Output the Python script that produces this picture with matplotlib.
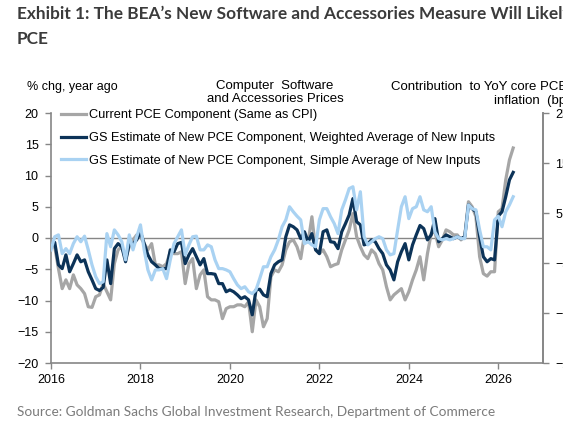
import matplotlib
matplotlib.use("Agg")
import matplotlib.pyplot as plt
import numpy as np
import pandas as pd

# monthly, Jan 2016 .. May 2026 (% chg, year ago)
start_month = "2016-01"
current_pce = [
    -1.4, -1.4, -4.9, -8.1, -6.7, -8.1, -5.9, -7.5, -8.1, -8.9, -11.0, -11.1,
    -9.4, -9.1, -7.3, -8.6, -9.9, -4.1, -1.9, -1.4, -3.3, -1.4, -0.3, 0.5,
    0.2, -0.9, -1.9, -0.9, -4.3, -4.3, -4.6, -4.1, -2.2, -2.5, -2.5, -2.2,
    -7.3, -4.1, -3.3, -8.1, -5.9, -5.1, -9.4, -9.9, -9.9, -10.2, -12.9, -11.3,
    -11.0, -11.0, -10.7, -10.7, -11.0, -10.2, -15.0, -9.9, -11.0, -14.2, -12.9, -6.2,
    -5.1, -5.4, -4.3, -1.9, -0.6, -0.3, -1.4, -3.3, 0.5, -0.6, 3.4, -1.9,
    -2.5, -1.9, -3.0, -4.6, -4.3, -4.1, -1.9, -0.3, 1.3, 3.9, 0.2, -1.4,
    -2.7, -3.3, -1.9, -2.5, -4.1, -5.1, -7.8, -9.9, -9.1, -8.6, -8.1, -9.9,
    -8.6, -6.7, -5.1, -3.0, -6.7, -2.5, 0.7, 1.0, -1.4, -0.3, 1.3, 1.0,
    0.5, 0.5, -0.3, 0.2, 5.8, 5.0, 3.4, -3.0, -5.7, -6.1, -5.4, -5.4,
    4.2, 4.7, 9.3, 12.5, 14.4,
]
weighted_avg = [
    -1.4, -0.7, -4.3, -4.9, -2.7, -5.4, -4.1, -2.7, -3.8, -3.5, -5.4, -6.7,
    -8.1, -8.4, -7.9, -3.5, -7.3, -1.7, -0.9, -1.4, -3.8, -0.9, -0.9, -0.3,
    1.0, -0.9, -2.7, -3.8, -4.3, -4.9, -4.9, -4.9, -1.9, -2.2, -0.9, -0.7,
    -4.1, -2.7, -1.7, -3.0, -4.3, -3.3, -5.7, -5.7, -5.8, -7.3, -7.3, -8.6,
    -8.3, -8.6, -9.1, -9.7, -9.4, -9.9, -12.3, -8.3, -8.2, -9.1, -9.4, -5.7,
    -4.3, -3.8, -3.5, 0.2, 2.1, 1.8, 1.3, -0.1, 1.0, -0.6, 0.7, -1.9,
    -2.5, 1.0, 1.3, -0.6, -0.7, -1.7, 1.0, 2.3, 3.7, 6.3, 2.6, 2.1,
    -1.1, -0.9, -0.3, -0.6, -1.7, -2.5, -4.3, -5.1, -6.7, -3.8, -2.2, -0.9,
    -3.5, -1.1, 0.5, 2.0, 1.5, -0.3, 0.5, 3.1, -0.6, -0.1, 0.5, 0.2,
    -0.1, 0.2, -0.1, 0.2, 5.3, 4.7, 4.2, 0.2, -3.0, -3.8, -3.3, -3.5,
    3.5, 4.2, 6.6, 9.3, 10.5,
]
simple_avg = [
    -1.9, 0.2, 0.5, -2.5, -1.7, -2.5, -0.9, 0.2, -0.6, 0.3, -1.9, -4.3,
    -6.2, -7.3, -7.0, 0.7, -1.4, 1.3, 0.5, -0.6, -3.5, 0.5, -1.9, 0.2,
    2.1, -1.9, -5.1, -6.7, -5.1, -5.1, -4.9, -6.5, -3.5, -0.9, 0.2, 1.3,
    -2.7, -1.1, 0.2, 0.3, -1.9, -1.9, -1.1, -1.4, -3.5, -4.9, -4.9, -5.1,
    -5.4, -6.5, -7.5, -8.1, -7.8, -8.6, -8.9, -8.3, -6.5, -4.6, -4.6, -3.0,
    -1.9, -0.3, 1.8, 2.9, 5.0, 4.2, 3.5, 2.9, -0.9, -0.6, -1.1, -1.4,
    2.9, 4.7, 4.7, 3.4, 2.3, 0.7, 4.5, 6.1, 7.9, 8.2, 4.5, 7.4,
    0.2, -1.1, -0.6, -0.1, 0.2, -0.1, -1.9, -2.7, -2.5, 1.3, 5.0, 6.6,
    3.1, 4.7, 5.0, 6.6, 4.5, 4.2, 5.0, 1.0, -0.1, -0.3, -0.1, -0.3,
    -0.1, 0.2, -0.1, -0.1, 5.3, 4.7, 4.5, 1.3, -1.4, -1.4, -1.9, 2.9,
    3.5, 1.8, 4.2, 5.3, 6.6,
]
labels = [
    "Current PCE Component (Same as CPI)",
    "GS Estimate of New PCE Component, Weighted Average of New Inputs",
    "GS Estimate of New PCE Component, Simple Average of New Inputs",
]
left_ticks = [20, 15, 10, 5, 0, -5, -10, -15, -20]
right_ticks = [25, 15, 5, -5, -15, -25]
year_ticks = [2016, 2018, 2020, 2022, 2024, 2026]

dates = pd.period_range(start_month, periods=len(current_pce), freq="M")
x = dates.year + (dates.month - 1) / 12.0

plt.rcParams["font.family"] = ["Liberation Sans", "DejaVu Sans"]
axis_grey = "#868686"

fig = plt.figure(figsize=(5.63, 4.32), dpi=100)
ax = fig.add_axes([51 / 563, 69 / 432, 492 / 563, 250 / 432])

ax.axhline(0, color=axis_grey, lw=1.0, zorder=1)
ax.plot(x, current_pce, color="#a6a6a6", lw=2.3, label=labels[0], zorder=2)
ax.plot(x, weighted_avg, color="#0c3358", lw=2.3, label=labels[1], zorder=3)
ax.plot(x, simple_avg, color="#a9d2f2", lw=2.3, label=labels[2], zorder=4)

ax.set_xlim(2016, 2027)
ax.set_ylim(-20, 20)
ax.set_yticks(left_ticks)
ax.set_xticks(year_ticks)
ax.set_xticklabels([str(t) for t in year_ticks])

ax.spines["top"].set_visible(False)
for s in ["left", "bottom", "right"]:
    ax.spines[s].set_color(axis_grey)
    ax.spines[s].set_linewidth(1.2)
ax.tick_params(axis="both", direction="out", length=4, width=1, color=axis_grey,
               labelsize=9)
ax.tick_params(axis="y", pad=5)
ax.tick_params(axis="x", pad=4)

ax2 = ax.twinx()
ax2.set_ylim(-25, 25)
ax2.set_yticks(right_ticks)
for s in ["top", "left", "bottom"]:
    ax2.spines[s].set_visible(False)
ax2.spines["right"].set_color(axis_grey)
ax2.spines["right"].set_linewidth(1.2)
ax2.tick_params(axis="y", direction="out", length=4, width=1, color=axis_grey,
                labelsize=9, pad=5)

leg = ax.legend(loc="upper left", bbox_to_anchor=(0.010, 1.035), frameon=False,
                fontsize=9.2, handlelength=1.95, handletextpad=0.2,
                labelspacing=0.84, borderaxespad=0)

title_kw = dict(fontsize=12.4, fontweight="bold", family="Lato", color="#3b3b3b")
fig.text(17 / 563, 1 - 19 / 432,
         "Exhibit 1: The BEA\u2019s New Software and Accessories Measure Will Likely Boost",
         **title_kw)
fig.text(17 / 563, 1 - 44 / 432, "PCE", **title_kw)

fig.text(27 / 563, 1 - 90 / 432, "% chg, year ago", fontsize=9)
fig.text(275 / 563, 1 - 102 / 432, "Computer  Software\nand Accessories Prices",
         fontsize=9.5, ha="center", linespacing=1.15)
fig.text(391 / 563, 1 - 90 / 432, "Contribution  to YoY core PCE", fontsize=9.5)
fig.text(494 / 563, 1 - 104 / 432, "inflation  (bp)", fontsize=9.5)

fig.text(17 / 563, 1 - 416 / 432,
         "Source: Goldman Sachs Global Investment Research, Department of Commerce",
         fontsize=9.8, family="Lato", color="#7b7b7b")

fig.savefig("out.png", dpi=100)
